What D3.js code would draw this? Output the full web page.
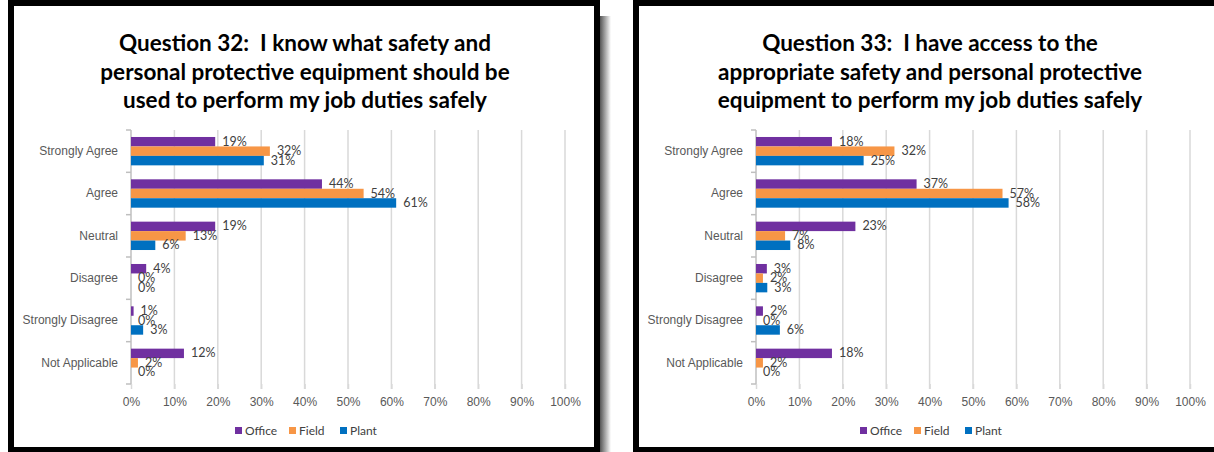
<!DOCTYPE html>
<html>
  <head>
    <style>
      body { margin: 0; background: #fff; }
      svg { display: block; font-family: Lato, "Open Sans", sans-serif; }
      .tick text { fill: #595959; font-size: 12px; }
      .title { white-space: pre; }
    </style>
  </head>
  <body>
    <script src="https://d3js.org/d3.v7.min.js"></script>
    <script>
      // Data (percent of respondents)
      const categories = ["Strongly Agree", "Agree", "Neutral", "Disagree", "Strongly Disagree", "Not Applicable"];
      const seriesNames = ["Office", "Field", "Plant"];
      const seriesColors = ["#7030A0", "#F79646", "#0070C0"];
      const xTicks = [0, 10, 20, 30, 40, 50, 60, 70, 80, 90, 100];

      const q32Title = ["Question 32:  I know what safety and", "personal protective equipment should be", "used to perform my job duties safely"];
      const q32Office = [19.4, 44.0, 19.4, 3.5, 0.6, 12.2];
      const q32Field  = [32.0, 53.6, 12.6, 0, 0, 1.6];
      const q32Plant  = [30.6, 61.1, 5.6, 0, 2.8, 0];

      const q33Title = ["Question 33:  I have access to the", "appropriate safety and personal protective", "equipment to perform my job duties safely"];
      const q33Office = [17.5, 37.0, 22.9, 2.5, 1.6, 17.5];
      const q33Field  = [31.9, 56.8, 6.7, 1.6, 0, 1.6];
      const q33Plant  = [24.8, 58.2, 7.9, 2.6, 5.5, 0];

      const svg = d3.select("body").append("svg")
        .attr("width", 1214)
        .attr("height", 452);

      // soft shadow to the right of the left frame
      const grad = svg.append("defs").append("linearGradient").attr("id", "shade");
      grad.append("stop").attr("offset", "0%").attr("stop-color", "#555");
      grad.append("stop").attr("offset", "100%").attr("stop-color", "#fff");

      function drawPanel(ox, titleLines, values) {
        const g = svg.append("g").attr("transform", "translate(" + ox + ",0)");
        const W = 592, H = 447;

        g.append("rect").attr("x", W).attr("y", 16).attr("width", 11).attr("height", H)
          .attr("fill", "url(#shade)");
        g.append("rect").attr("x", 3).attr("y", 3).attr("width", W - 6).attr("height", H)
          .attr("fill", "#fff").attr("stroke", "#000").attr("stroke-width", 6);

        // title
        g.append("text")
          .attr("class", "title")
          .attr("text-anchor", "middle")
          .attr("font-weight", "bold")
          .attr("font-size", 22.5)
          .attr("fill", "#000")
          .selectAll("tspan").data(titleLines).join("tspan")
          .attr("x", 297)
          .attr("y", (d, i) => 51 + i * 28.5)
          .text(d => d);

        const left = 123, right = 557, top = 130, bottom = 384;
        const x = d3.scaleLinear().domain([0, 100]).range([left, right]);
        const y = d3.scaleBand().domain(categories).range([top, bottom]).paddingInner(0.33).paddingOuter(0.165);
        const ys = d3.scaleBand().domain(seriesNames).range([0, y.bandwidth()]);

        // gridlines + ticks below
        g.append("g").selectAll("line").data(xTicks.slice(1)).join("line")
          .attr("x1", d => x(d)).attr("x2", d => x(d))
          .attr("y1", top).attr("y2", bottom + 5)
          .attr("stroke", "#D9D9D9").attr("stroke-width", 1.5);

        // x axis labels
        const xAxis = g.append("g").attr("transform", "translate(0," + bottom + ")")
          .call(d3.axisBottom(x).tickValues(xTicks).tickFormat(d => d + "%").tickSize(5).tickPadding(8));
        xAxis.select(".domain").remove();
        xAxis.selectAll(".tick line").attr("stroke", "#D9D9D9").attr("stroke-width", 1.5);

        // category axis
        const step = y.step();
        const yAxis = g.append("g").attr("transform", "translate(" + left + ",0)")
          .call(d3.axisLeft(y).tickSize(0).tickPadding(13));
        yAxis.select(".domain").attr("stroke", "#BFBFBF").attr("stroke-width", 1.5)
          .attr("d", "M0," + top + "V" + bottom);
        yAxis.selectAll(".tick text").attr("fill", "#404040");
        g.append("g").selectAll("line").data(d3.range(categories.length + 1)).join("line")
          .attr("x1", left - 5).attr("x2", left)
          .attr("y1", i => top + i * step).attr("y2", i => top + i * step)
          .attr("stroke", "#BFBFBF").attr("stroke-width", 1.5);

        // bars
        const rows = [];
        values.forEach((vals, s) => vals.forEach((v, c) => rows.push({ s: s, cat: categories[c], v: v })));
        g.append("g").selectAll("rect").data(rows).join("rect")
          .attr("x", x(0))
          .attr("y", d => y(d.cat) + ys(seriesNames[d.s]))
          .attr("width", d => x(d.v) - x(0))
          .attr("height", ys.bandwidth())
          .attr("fill", d => seriesColors[d.s]);

        g.append("g").selectAll("text").data(rows).join("text")
          .attr("x", d => x(d.v) + 7)
          .attr("y", d => y(d.cat) + ys(seriesNames[d.s]) + ys.bandwidth() / 2 + 4)
          .attr("font-size", 12.5)
          .attr("fill", "#404040")
          .text(d => Math.round(d.v) + "%");

        // legend
        const lg = g.append("g").attr("transform", "translate(227,431)");
        const offs = [0, 54, 105];
        seriesNames.forEach((n, i) => {
          lg.append("rect").attr("x", offs[i]).attr("y", -4).attr("width", 7).attr("height", 7)
            .attr("fill", seriesColors[i]);
          lg.append("text").attr("x", offs[i] + 10).attr("y", 4).attr("font-size", 12)
            .attr("fill", "#404040").text(n);
        });
      }

      drawPanel(8, q32Title, [q32Office, q32Field, q32Plant]);
      drawPanel(633, q33Title, [q33Office, q33Field, q33Plant]);
    </script>
  </body>
</html>
